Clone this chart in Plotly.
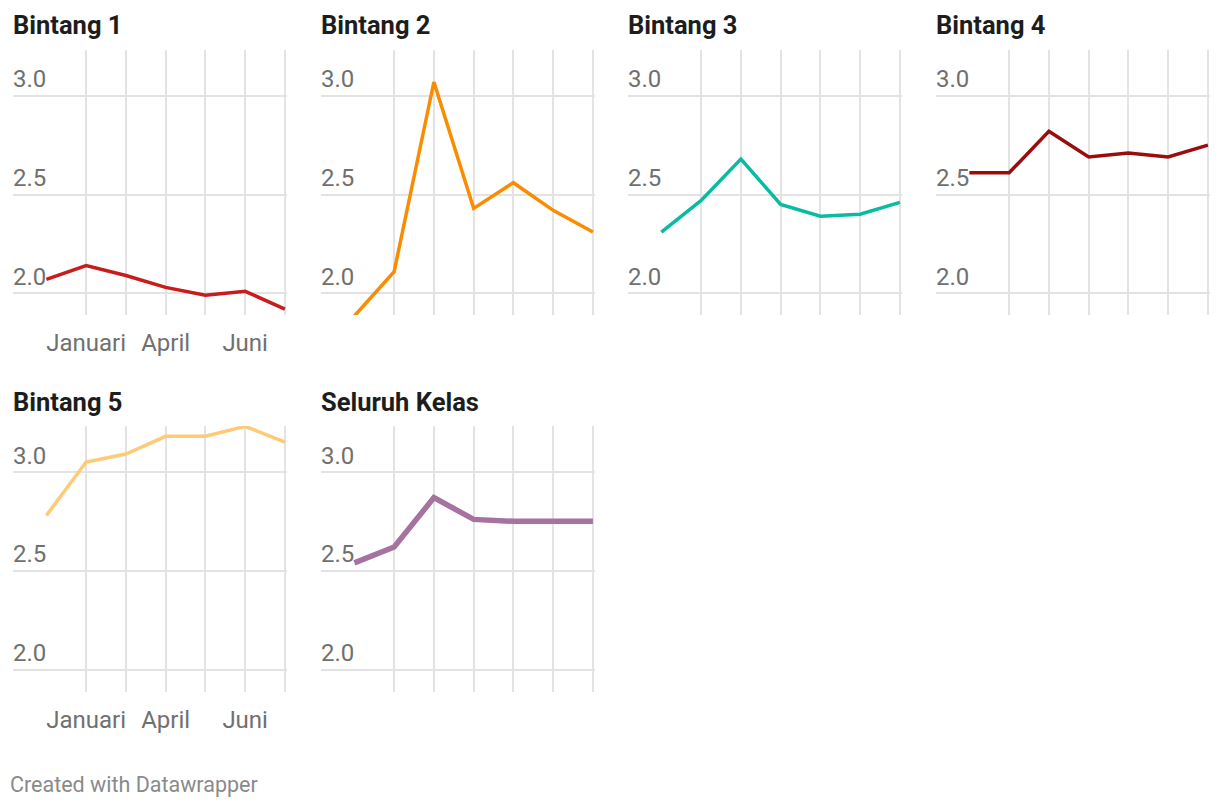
import plotly.graph_objects as go

# ---- data ----
periode = [0, 1, 2, 3, 4, 5, 6]
tick_pos = [1, 2, 3, 4, 5, 6]
tick_text = ["Januari", "", "April", "", "Juni", ""]
y_ticks = [2.0, 2.5, 3.0]
y_tick_text = ["2.0", "2.5", "3.0"]

judul = ["Bintang 1", "Bintang 2", "Bintang 3", "Bintang 4", "Bintang 5", "Seluruh Kelas"]
bintang1 = [2.07, 2.14, 2.09, 2.03, 1.99, 2.01, 1.92]
bintang2 = [1.885, 2.11, 3.07, 2.43, 2.56, 2.42, 2.31]
bintang3 = [2.31, 2.47, 2.68, 2.45, 2.39, 2.40, 2.46]
bintang4 = [2.61, 2.61, 2.82, 2.69, 2.71, 2.69, 2.75]
bintang5 = [2.78, 3.05, 3.09, 3.18, 3.18, 3.23, 3.15]
seluruh = [2.54, 2.62, 2.87, 2.76, 2.75, 2.75, 2.75]

series = [bintang1, bintang2, bintang3, bintang4, bintang5, seluruh]
colors = ["#c71e1d", "#fa8c00", "#09bb9f", "#9b0d0d", "#ffca76", "#a6729f"]
widths = [3.5, 3.5, 3.5, 3.5, 3.5, 5.5]

# ---- layout geometry (page pixels; page body has an 8px margin) ----
OFF = 8
W, H = 1220 - 2 * OFF, 808 - 2 * OFF
lefts = [13, 321, 628, 936]
panel_w = 273.5
rows = [(50, 315), (426, 691.5)]
title_y = [25.5, 401.5]


def px_x(p):
    return (p - OFF) / W


def px_y(p):
    return 1 - (p - OFF) / H


fig = go.Figure()
font = "Roboto, 'Noto Sans', sans-serif"

for i, (name, ys) in enumerate(zip(judul, series)):
    r, c = divmod(i, 4)
    idx = i + 1
    xa = "x" if idx == 1 else f"x{idx}"
    ya = "y" if idx == 1 else f"y{idx}"
    fig.add_trace(go.Scatter(
        x=periode, y=ys, mode="lines", xaxis=xa, yaxis=ya,
        line=dict(color=colors[i], width=widths[i]),
        showlegend=False, hoverinfo="x+y",
    ))
    x0 = lefts[c]
    top, bot = rows[r]
    xdom = [px_x(x0), px_x(x0 + panel_w)]
    ydom = [px_y(bot), px_y(top)]
    show_x = c == 0
    fig.update_layout(**{
        ("xaxis" if idx == 1 else f"xaxis{idx}"): dict(
            domain=xdom, anchor=ya, range=[-0.84, 6.04],
            tickmode="array", tickvals=tick_pos, ticktext=tick_text,
            showgrid=True, gridcolor="#e3e3e3", gridwidth=2,
            zeroline=False, showline=False, ticks="",
            showticklabels=show_x, ticklabelstandoff=11,
            tickfont=dict(family=font, size=24, color="#707070"),
            fixedrange=True,
        ),
        ("yaxis" if idx == 1 else f"yaxis{idx}"): dict(
            domain=ydom, anchor=xa, range=[1.89, 3.232],
            tickmode="array", tickvals=y_ticks, ticktext=y_tick_text,
            showgrid=True, gridcolor="#e3e3e3", gridwidth=2,
            zeroline=False, showline=False, ticks="",
            ticklabelposition="inside top", ticklabelstandoff=-3,
            tickfont=dict(family=font, size=24, color="#707070"),
            fixedrange=True,
        ),
    })
    fig.add_annotation(
        text=f"<b>{name}</b>", xref="paper", yref="paper",
        x=px_x(x0 - 2), y=px_y(title_y[r]), xanchor="left", yanchor="middle",
        showarrow=False, font=dict(family=font, size=25.5, color="#1d1d1d"),
    )

fig.add_annotation(
    text="Created with Datawrapper", xref="paper", yref="paper",
    x=px_x(8), y=px_y(784), xanchor="left", yanchor="middle",
    showarrow=False, font=dict(family=font, size=21.5, color="#8a8a8a"),
)

fig.update_layout(
    width=W, height=H, margin=dict(l=0, r=0, t=0, b=0),
    paper_bgcolor="white", plot_bgcolor="white",
)

fig.write_html("out.html")
